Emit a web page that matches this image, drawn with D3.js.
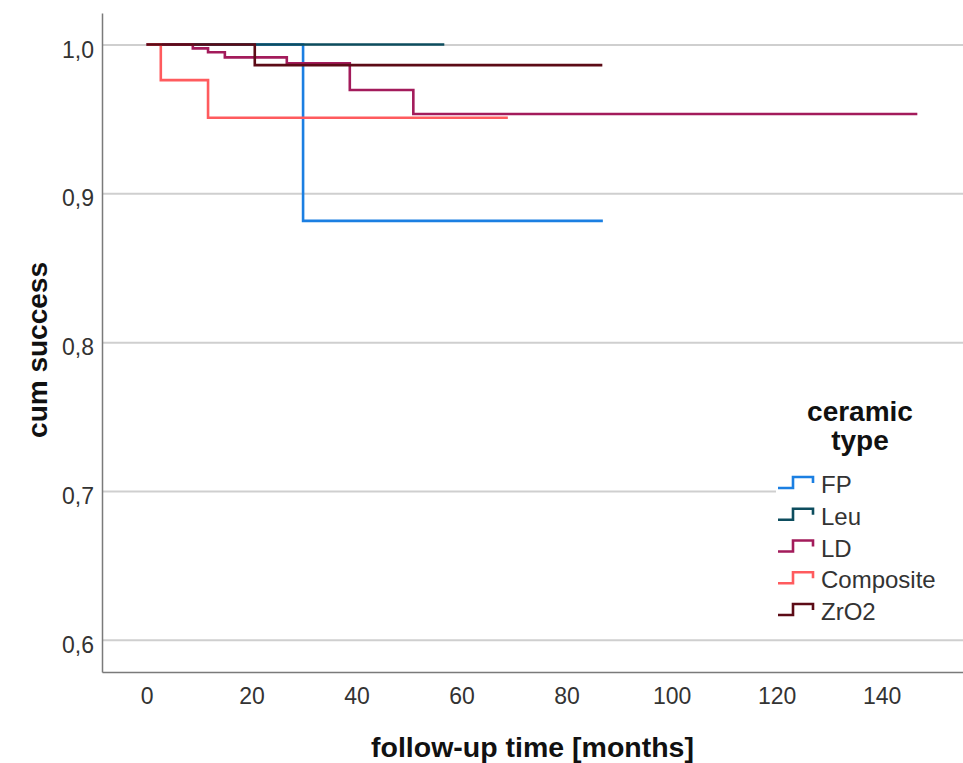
<!DOCTYPE html>
<html>
<head>
<meta charset="utf-8">
<script src="https://cdn.jsdelivr.net/npm/d3@7"></script>
<style>
  body { margin: 0; background: #fff; }
  text { font-family: "Liberation Sans", Arial, sans-serif; }
</style>
</head>
<body>
<script>
// ceramic types, in legend order
var groups = ["FP", "Leu", "LD", "Composite", "ZrO2"];
var colors = ["#1b7fe2", "#0d4d5e", "#a31b5b", "#ff5b5e", "#5c0b16"];

// step times (months) and cumulative success
var fpTime = [0, 29.8, 86.9];
var fpSurv = [1, 0.8815, 0.8815];
var leuTime = [0, 56.7];
var leuSurv = [1, 1];
var ldTime = [0, 8.8, 11.7, 14.9, 26.7, 38.7, 50.8, 146.8];
var ldSurv = [1, 0.9974, 0.9948, 0.9914, 0.9874, 0.9694, 0.9533, 0.9533];
var compTime = [0, 2.7, 11.7, 68.8];
var compSurv = [1, 0.9761, 0.9508, 0.9508];
var zrTime = [0, 20.6, 86.8];
var zrSurv = [1, 0.9862, 0.9862];

var xTicks = [0, 20, 40, 60, 80, 100, 120, 140];
var yTicks = [0.6, 0.7, 0.8, 0.9, 1.0];

var width = 963, height = 763;
var plotLeft = 102, plotRight = 963, plotTop = 13, plotBottom = 672;

var svg = d3.select("body").append("svg")
  .attr("width", width)
  .attr("height", height);

var x = d3.scaleLinear().domain([-8.5, 155.5]).range([plotLeft, plotRight]);
var y = d3.scaleLinear().domain([0.5783, 1.0212]).range([plotBottom, plotTop]);

// gridlines
svg.append("g")
  .attr("transform", "translate(" + plotLeft + ",0)")
  .call(d3.axisLeft(y).tickValues(yTicks).tickSize(-(plotRight - plotLeft)).tickFormat(""))
  .call(function(g) { g.select(".domain").remove() })
  .selectAll("line")
  .style("stroke", "#cfcfcf")
  .style("stroke-width", 2);

// curves
var series = [
  {name: "FP", t: fpTime, s: fpSurv},
  {name: "Leu", t: leuTime, s: leuSurv},
  {name: "LD", t: ldTime, s: ldSurv},
  {name: "Composite", t: compTime, s: compSurv},
  {name: "ZrO2", t: zrTime, s: zrSurv}
];

var line = d3.line()
  .x(function(d) { return x(d[0]) })
  .y(function(d) { return y(d[1]) })
  .curve(d3.curveStepAfter);

series.forEach(function(ser, i) {
  var pts = ser.t.map(function(t, j) { return [t, ser.s[j]] });
  svg.append("path")
    .datum(pts)
    .attr("d", line)
    .style("fill", "none")
    .style("stroke", colors[i])
    .style("stroke-width", 2.6);
});

// axes
var xAxis = svg.append("g")
  .attr("transform", "translate(0," + plotBottom + ")")
  .call(d3.axisBottom(x).tickValues(xTicks).tickSize(0).tickSizeOuter(0).tickPadding(16));
xAxis.select(".domain").style("stroke", "#7a7a7a").style("stroke-width", 1.5);
xAxis.selectAll("text")
  .style("font-family", "Liberation Sans, Arial, sans-serif")
  .style("font-size", "23px")
  .style("fill", "#333");

var yAxis = svg.append("g")
  .attr("transform", "translate(" + plotLeft + ",0)")
  .call(d3.axisLeft(y).tickValues(yTicks).tickSize(0).tickSizeOuter(0).tickPadding(8)
    .tickFormat(function(d) { return d3.format(".1f")(d).replace(".", ",") }));
yAxis.select(".domain").style("stroke", "#7a7a7a").style("stroke-width", 1.5);
yAxis.selectAll("text")
  .attr("dy", "0.55em")
  .style("font-family", "Liberation Sans, Arial, sans-serif")
  .style("font-size", "23px")
  .style("fill", "#333");

// axis titles
svg.append("text")
  .attr("x", (plotLeft + plotRight) / 2)
  .attr("y", 757)
  .attr("text-anchor", "middle")
  .style("font-size", "28.5px")
  .style("font-weight", "bold")
  .style("fill", "#111")
  .text("follow-up time [months]");

svg.append("text")
  .attr("transform", "translate(47,350) rotate(-90)")
  .attr("text-anchor", "middle")
  .style("font-size", "28px")
  .style("font-weight", "bold")
  .style("fill", "#111")
  .text("cum success");

// legend
var legend = svg.append("g");
legend.append("rect")
  .attr("x", 776).attr("y", 392)
  .attr("width", 187).attr("height", 240)
  .style("fill", "#fff");

legend.append("text")
  .attr("x", 860).attr("y", 421)
  .attr("text-anchor", "middle")
  .style("font-size", "28px")
  .style("font-weight", "bold")
  .style("fill", "#111")
  .text("ceramic");
legend.append("text")
  .attr("x", 860).attr("y", 450)
  .attr("text-anchor", "middle")
  .style("font-size", "28px")
  .style("font-weight", "bold")
  .style("fill", "#111")
  .text("type");

var rowY = d3.scalePoint().domain(groups).range([493, 620]);

groups.forEach(function(g, i) {
  var by = rowY(g);
  legend.append("path")
    .attr("d", "M778," + (by - 5) + "H793V" + (by - 16) + "H813V" + (by - 10))
    .style("fill", "none")
    .style("stroke", colors[i])
    .style("stroke-width", 2.6);
  legend.append("text")
    .attr("x", 821).attr("y", by)
    .style("font-size", "24px")
    .style("fill", "#333")
    .text(g);
});
</script>
</body>
</html>
